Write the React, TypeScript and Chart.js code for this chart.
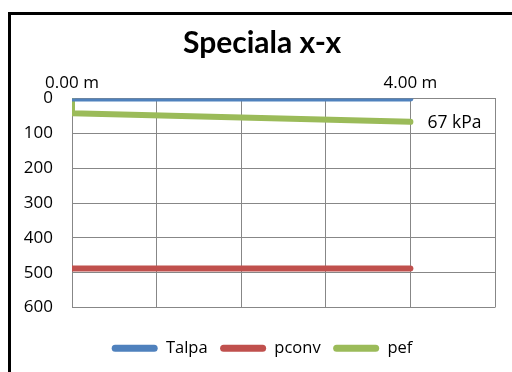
import React, { useEffect, useRef } from "react";
import { Chart, registerables } from "chart.js";

Chart.register(...registerables);

const chartTitle = "Speciala x-x";
const seriesNames = ["Talpa", "pconv", "pef"];
const seriesColors = ["#4F81BD", "#C0504D", "#9BBB59"];
const talpaX = [0, 4];
const talpaY = [0, 0];
const pconvX = [0, 4];
const pconvY = [488, 488];
const pefX = [0, 0, 4];
const pefY = [0, 42, 67];
const xTickLabels: Record<number, string> = { 0: "0.00 m", 4: "4.00 m" };
const endLabel = "67 kPa";
const yMin = 0;
const yMax = 600;
const yStep = 100;
const xMin = 0;
const xMax = 5;

const TITLE_FONT = "Lato, 'Open Sans', sans-serif";
const FONT = "'Open Sans', Lato, sans-serif";

const toPoints = (xs: number[], ys: number[]) => xs.map((x, i) => ({ x, y: ys[i] }));

const framePlugin = {
  id: "frame",
  afterDraw(chart: any) {
    const ctx = chart.ctx;
    ctx.save();
    ctx.strokeStyle = "#000";
    ctx.lineWidth = 3;
    ctx.beginPath();
    ctx.moveTo(9.5, 372);
    ctx.lineTo(9.5, 13.5);
    ctx.lineTo(512, 13.5);
    ctx.stroke();
    ctx.restore();
  },
};

const endLabelPlugin = {
  id: "endLabel",
  afterDatasetsDraw(chart: any) {
    const meta = chart.getDatasetMeta(2);
    const pts = meta.data;
    if (!pts || !pts.length) return;
    const last = pts[pts.length - 1];
    const ctx = chart.ctx;
    ctx.save();
    ctx.fillStyle = "#000";
    ctx.font = `17.5px ${FONT}`;
    ctx.textAlign = "left";
    ctx.textBaseline = "middle";
    ctx.fillText(endLabel, last.x + 17, last.y + 1);
    ctx.restore();
  },
};

export default function App() {
  const ref = useRef<HTMLCanvasElement | null>(null);

  useEffect(() => {
    if (!ref.current) return;
    const datasets = [
      { label: seriesNames[0], data: toPoints(talpaX, talpaY) },
      { label: seriesNames[1], data: toPoints(pconvX, pconvY) },
      { label: seriesNames[2], data: toPoints(pefX, pefY) },
    ].map((d, i) => ({
      ...d,
      borderColor: seriesColors[i],
      backgroundColor: seriesColors[i],
      borderWidth: 6,
      borderCapStyle: "round" as const,
      borderJoinStyle: "round" as const,
      pointRadius: 0,
      tension: 0,
      fill: false,
    }));

    const chart = new Chart(ref.current, {
      type: "line",
      data: { datasets },
      plugins: [framePlugin, endLabelPlugin],
      options: {
        animation: false,
        responsive: true,
        maintainAspectRatio: false,
        layout: { padding: { left: 12, right: 0, top: 0, bottom: 5.5 } },
        plugins: {
          title: {
            display: true,
            text: chartTitle,
            color: "#000",
            font: { family: TITLE_FONT, size: 30, weight: "bold", lineHeight: 1.2 },
            padding: { top: 25.7, bottom: 0 },
          },
          legend: {
            display: true,
            position: "bottom",
            labels: {
              color: "#000",
              font: { family: FONT, size: 16.5 },
              boxWidth: 46,
              boxHeight: 7,
              padding: 12.5,
              useBorderRadius: true,
              borderRadius: 3.5,
              generateLabels: (c: any) =>
                Chart.defaults.plugins.legend.labels
                  .generateLabels(c)
                  .map((l: any) => ({ ...l, lineWidth: 0 })),
            },
          },
          tooltip: { enabled: false },
        },
        scales: {
          x: {
            type: "linear",
            position: "top",
            min: xMin,
            max: xMax,
            afterFit: (s: any) => {
              s.height = 36.8;
            },
            grid: { color: "#878787", lineWidth: 1, drawTicks: false },
            border: { color: "#878787", width: 1 },
            ticks: {
              stepSize: 1,
              padding: 5,
              color: "#000",
              font: { family: FONT, size: 17 },
              maxRotation: 0,
              autoSkip: false,
              callback: (v: any) => xTickLabels[Number(v)] ?? "",
            },
          },
          x2: {
            type: "linear",
            position: "bottom",
            display: true,
            afterFit: (s: any) => {
              s.height = 20;
            },
            grid: { display: false },
            border: { display: false },
            ticks: { display: false },
          },
          y: {
            type: "linear",
            position: "left",
            reverse: true,
            min: yMin,
            max: yMax,
            afterFit: (s: any) => {
              s.width = 60;
            },
            grid: { color: "#878787", lineWidth: 1, drawTicks: false },
            border: { color: "#878787", width: 1 },
            ticks: {
              stepSize: yStep,
              padding: 19,
              color: "#000",
              font: { family: FONT, size: 17 },
            },
          },
          y2: {
            type: "linear",
            position: "right",
            display: true,
            afterFit: (s: any) => {
              s.width = 17;
            },
            grid: { display: false },
            border: { display: false },
            ticks: { display: false },
          },
        },
      },
    });
    return () => chart.destroy();
  }, []);

  return (
    <div
      style={{
        position: "fixed",
        left: 0,
        top: 0,
        width: 512,
        height: 372,
        background: "#fff",
      }}
    >
      <canvas ref={ref} />
    </div>
  );
}
